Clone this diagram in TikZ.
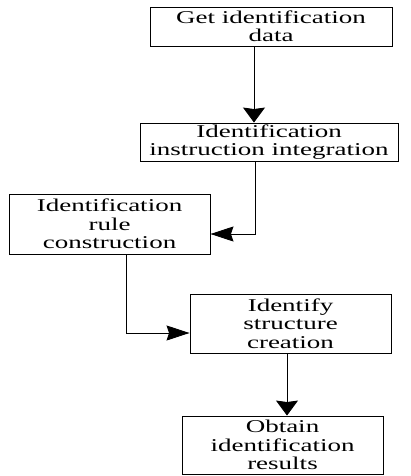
\documentclass[tikz,border=0pt]{standalone}
\usepackage{fontspec}
\newfontfamily\wfont[FakeStretch=1.5]{Liberation Serif}
\usetikzlibrary{arrows.meta}
\tikzset{
  box/.style={draw=black, line width=0.9pt, rectangle, inner sep=0pt, align=center,
    font=\wfont\fontsize{18}{18.5}\selectfont, text=black},
  conn/.style={draw=black, line width=0.9pt},
  varr/.style={conn, -{Stealth[length=15pt, width=22pt, inset=1.5pt]}},
  harr/.style={conn, -{Stealth[length=23pt, width=15pt, inset=2.5pt]}}
}
\begin{document}
\begin{tikzpicture}[x=1pt, y=-1pt]
\useasboundingbox (0,0) rectangle (410,476);
\node[box, minimum width=242pt, minimum height=39pt] (b1) at (271,26.5) {Get identification\\data};
\node[box, minimum width=258pt, minimum height=38pt] (b2) at (269,142) {Identification\\instruction integration};
\node[box, minimum width=201pt, minimum height=60pt] (b3) at (109.5,224) {Identification\\rule\\construction};
\node[box, minimum width=201pt, minimum height=59pt] (b4) at (290.5,323.5) {Identify\\structure\\creation};
\node[box, minimum width=201pt, minimum height=58pt] (b5) at (282.5,445) {Obtain\\identification\\results};
\coordinate (t3) at ([yshift=-10pt]b3.east);
\coordinate (t4) at ([yshift=-9.5pt]b4.west);
\draw[varr] ([xshift=-17pt]b1.south) -- ([xshift=-17pt]b1.south |- b2.north);
\draw[harr] ([xshift=-14pt]b2.south) |- (t3);
\draw[harr] ([xshift=16.5pt]b3.south) |- (t4);
\draw[varr] ([xshift=-3.5pt]b4.south) -- ([xshift=-3.5pt]b4.south |- b5.north);
\end{tikzpicture}
\end{document}
